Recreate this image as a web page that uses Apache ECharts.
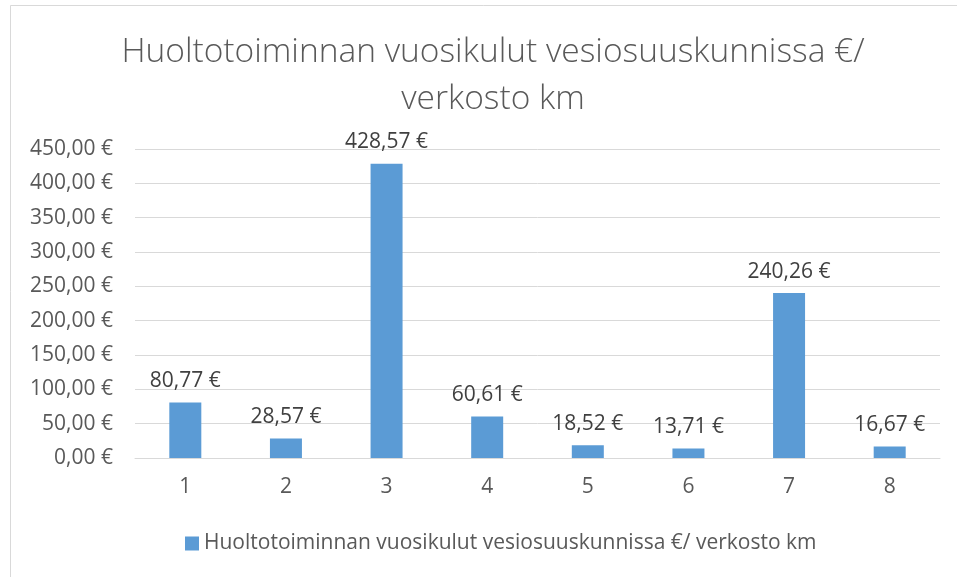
<!DOCTYPE html>
<html><head><meta charset="utf-8">
<script src="https://cdn.jsdelivr.net/npm/echarts@6/dist/echarts.min.js"></script>
<style>html,body{margin:0;padding:0;background:#fff}#c{width:957px;height:577px}</style>
</head><body><div id="c"></div>
<script>
const categories = ['1','2','3','4','5','6','7','8'];
const values = [80.77, 28.57, 428.57, 60.61, 18.52, 13.71, 240.26, 16.67];
const seriesName = 'Huoltotoiminnan vuosikulut vesiosuuskunnissa €/ verkosto km';
const titleText = 'Huoltotoiminnan vuosikulut vesiosuuskunnissa €/\nverkosto km';

const fmt = v => v.toFixed(2).replace('.', ',') + ' €';
const font = '"Open Sans", sans-serif';
const chart = echarts.init(document.getElementById('c'));
chart.setOption({
  animation: false,
  backgroundColor: '#fff',
  graphic: [{
    type: 'polyline', shape: {points: [[10.5, 577], [10.5, 5.5], [957, 5.5]]},
    style: {stroke: '#d9d9d9', lineWidth: 1, fill: null}
  }],
  title: {
    text: titleText, left: 488, textAlign: 'center', top: 24,
    textStyle: {fontFamily: font, fontWeight: 300, fontSize: 33.5, color: '#595959', lineHeight: 47}
  },
  legend: {
    bottom: 18, left: 180, itemWidth: 14, itemHeight: 14, itemGap: 7,
    icon: 'rect',
    textStyle: {fontFamily: font, fontSize: 21, color: '#595959'},
    data: [seriesName]
  },
  grid: {left: 135, right: 17, top: 149, bottom: 119, containLabel: false},
  xAxis: {
    type: 'category', data: categories,
    axisLine: {lineStyle: {color: '#d9d9d9', width: 1}},
    axisTick: {show: false},
    axisLabel: {fontFamily: font, fontSize: 21, color: '#595959', margin: 19}
  },
  yAxis: {
    type: 'value', min: 0, max: 450, interval: 50,
    axisLine: {show: false}, axisTick: {show: false},
    splitLine: {lineStyle: {color: '#d9d9d9', width: 1}},
    axisLabel: {fontFamily: font, fontSize: 21, color: '#595959', margin: 22, formatter: fmt}
  },
  series: [{
    name: seriesName, type: 'bar', data: values, barWidth: 32,
    itemStyle: {color: '#5b9bd5'},
    label: {show: true, position: 'top', distance: 11, fontFamily: font, fontSize: 21, color: '#404040',
      formatter: p => fmt(p.value)}
  }]
});
</script></body></html>
